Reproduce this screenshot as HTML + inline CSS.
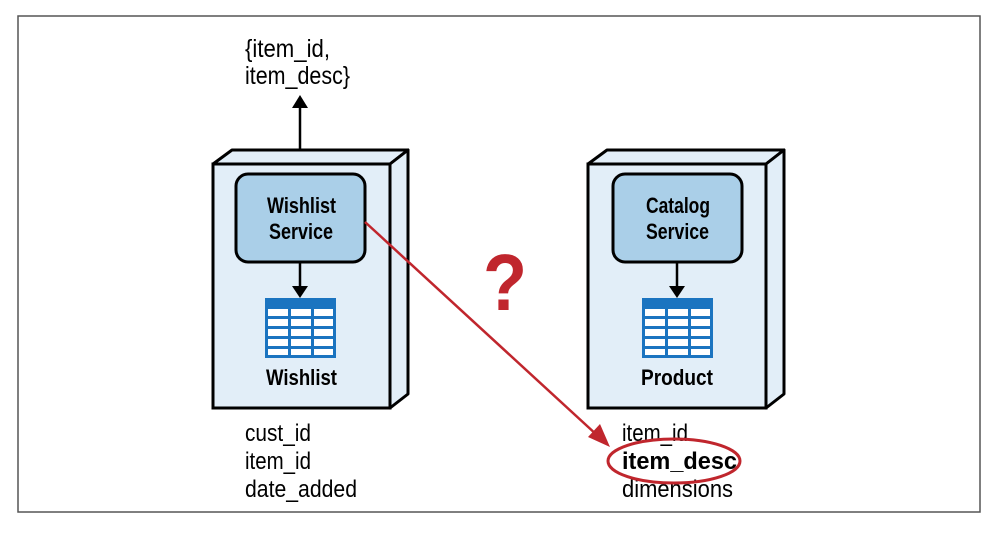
<!DOCTYPE html>
<html><head><meta charset="utf-8"><style>
html,body{margin:0;padding:0;background:#fff;}
svg text{font-family:"Liberation Sans Narrow","Liberation Sans",sans-serif;}
</style></head><body>
<svg width="990" height="528" viewBox="0 0 990 528" xmlns="http://www.w3.org/2000/svg">
<defs>
<g id="tbl">
<rect x="0" y="0" width="71" height="60" fill="#1b74c0"/>
<g fill="#fff">
<rect x="3" y="11" width="20" height="7"/><rect x="26" y="11" width="20" height="7"/><rect x="49" y="11" width="19" height="7"/>
<rect x="3" y="21" width="20" height="7"/><rect x="26" y="21" width="20" height="7"/><rect x="49" y="21" width="19" height="7"/>
<rect x="3" y="31" width="20" height="7"/><rect x="26" y="31" width="20" height="7"/><rect x="49" y="31" width="19" height="7"/>
<rect x="3" y="41" width="20" height="7"/><rect x="26" y="41" width="20" height="7"/><rect x="49" y="41" width="19" height="7"/>
<rect x="3" y="51" width="20" height="6"/><rect x="26" y="51" width="20" height="6"/><rect x="49" y="51" width="19" height="6"/>
</g>
</g>
</defs>
<rect x="18" y="16" width="962" height="496" fill="#fff" stroke="#555" stroke-width="1.5"/>

<!-- left box -->
<polygon points="213,164 232,150 408,150 390,164" fill="#e2eef8" stroke="#000" stroke-width="3" stroke-linejoin="round"/>
<polygon points="390,164 408,150 408,394 390,408" fill="#e2eef8" stroke="#000" stroke-width="3" stroke-linejoin="round"/>
<rect x="213" y="164" width="177" height="244" fill="#e2eef8" stroke="#000" stroke-width="3"/>
<rect x="236" y="174" width="129" height="88" rx="12" fill="#aacfe8" stroke="#000" stroke-width="3"/>
<text x="267" y="213" font-size="22" font-weight="bold" textLength="69" lengthAdjust="spacingAndGlyphs">Wishlist</text>
<text x="269" y="239" font-size="22" font-weight="bold" textLength="64" lengthAdjust="spacingAndGlyphs">Service</text>
<line x1="300" y1="262" x2="300" y2="290" stroke="#000" stroke-width="2.5"/>
<path d="M292,286 L308,286 L300,298z" fill="#000"/>
<use href="#tbl" x="265" y="298"/>
<text x="266" y="385" font-size="22" font-weight="bold" textLength="71" lengthAdjust="spacingAndGlyphs">Wishlist</text>

<!-- up arrow -->
<line x1="300" y1="150" x2="300" y2="104" stroke="#000" stroke-width="2.5"/>
<path d="M292,108 L308,108 L300,95z" fill="#000"/>
<text x="245" y="57" font-size="25" textLength="85" lengthAdjust="spacingAndGlyphs">{item_id,</text>
<text x="245" y="84" font-size="25" textLength="105" lengthAdjust="spacingAndGlyphs">item_desc}</text>

<!-- right box -->
<polygon points="588,164 607,150 784,150 766,164" fill="#e2eef8" stroke="#000" stroke-width="3" stroke-linejoin="round"/>
<polygon points="766,164 784,150 784,394 766,408" fill="#e2eef8" stroke="#000" stroke-width="3" stroke-linejoin="round"/>
<rect x="588" y="164" width="178" height="244" fill="#e2eef8" stroke="#000" stroke-width="3"/>
<rect x="613" y="174" width="129" height="88" rx="12" fill="#aacfe8" stroke="#000" stroke-width="3"/>
<text x="646" y="213" font-size="22" font-weight="bold" textLength="64" lengthAdjust="spacingAndGlyphs">Catalog</text>
<text x="646" y="239" font-size="22" font-weight="bold" textLength="63" lengthAdjust="spacingAndGlyphs">Service</text>
<line x1="677" y1="262" x2="677" y2="290" stroke="#000" stroke-width="2.5"/>
<path d="M669,286 L685,286 L677,298z" fill="#000"/>
<use href="#tbl" x="642" y="298"/>
<text x="641" y="385" font-size="22" font-weight="bold" textLength="72" lengthAdjust="spacingAndGlyphs">Product</text>

<!-- lists -->
<text x="245" y="441" font-size="24" textLength="66" lengthAdjust="spacingAndGlyphs">cust_id</text>
<text x="245" y="469" font-size="24" textLength="66" lengthAdjust="spacingAndGlyphs">item_id</text>
<text x="245" y="497" font-size="24" textLength="112" lengthAdjust="spacingAndGlyphs">date_added</text>
<text x="622" y="441" font-size="24" textLength="66" lengthAdjust="spacingAndGlyphs">item_id</text>
<text x="622" y="469" font-size="24" font-weight="bold" textLength="115" lengthAdjust="spacingAndGlyphs">item_desc</text>
<text x="622" y="497" font-size="24" textLength="111" lengthAdjust="spacingAndGlyphs">dimensions</text>

<!-- red -->
<text x="505" y="310" text-anchor="middle" font-size="80" font-weight="bold" fill="#c0262d" textLength="44" lengthAdjust="spacingAndGlyphs">?</text>
<line x1="365" y1="222" x2="598" y2="436" stroke="#c0262d" stroke-width="2.5"/>
<path d="M610,447 L588,437 L600,424z" fill="#c0262d"/>
<ellipse cx="674" cy="461" rx="66" ry="22" fill="none" stroke="#c0262d" stroke-width="3"/>
</svg>
</body></html>
